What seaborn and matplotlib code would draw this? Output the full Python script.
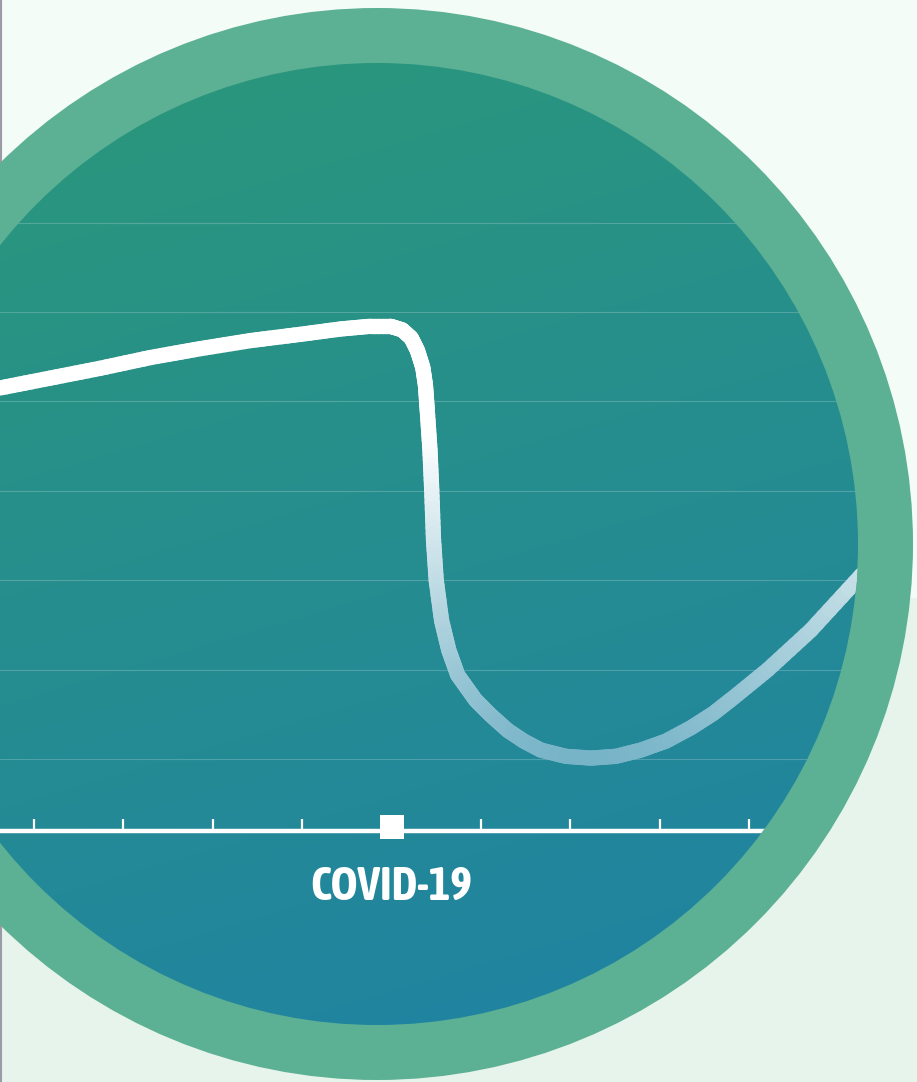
import numpy as np
import matplotlib.pyplot as plt
import seaborn as sns
from matplotlib.collections import LineCollection
from matplotlib.patches import Circle, Rectangle
from matplotlib.colors import to_rgb
from matplotlib import font_manager

# months relative to the COVID-19 onset, and the index
months = [-4.38, -3.82, -3.26, -2.70, -2.14, -1.58, -1.02, -0.57, -0.24, -0.01,
          0.12, 0.22, 0.29, 0.35, 0.38, 0.40, 0.43, 0.45, 0.47, 0.50,
          0.56, 0.64, 0.74, 0.94, 1.11, 1.30, 1.48, 1.67, 1.95, 2.23,
          2.51, 2.79, 3.07, 3.35, 3.60, 3.83, 4.21, 4.69, 5.25, 5.59]
index = [51.5, 52.6, 53.7, 54.9, 55.9, 56.8, 57.5, 58.1, 58.4, 58.4,
         58.0, 57.1, 55.7, 53.8, 51.8, 49.0, 44.6, 40.1, 34.5, 30.0,
         25.5, 22.2, 19.4, 16.6, 14.9, 13.2, 12.0, 11.0, 10.3, 10.1,
         10.3, 11.0, 12.0, 13.5, 15.1, 16.9, 20.0, 24.4, 30.5, 33.9]
grid_levels = [10, 20, 30, 40, 50, 60, 70]
tick_months = [-4, -3, -2, -1, 1, 2, 3, 4, 5]
covid_month = 0
baseline = 2
event_label = "COVID-19"

W, H = 917, 1082
X0_PX, X_STEP = 391.5, 89.4   # pixel of month 0, pixels per month
Y10_PX, Y_STEP = 759, 8.94    # pixel of level 10, pixels per index point
CX, CY, R_OUT, R_IN = 377, 544, 536, 481


def py_to_y(py):
    return 10 + (Y10_PX - py) / Y_STEP


def pick_narrow_font():
    narrow = ("condensed", "semi-condensed", "extra-condensed", "ultra-condensed")
    found = []
    for f in font_manager.fontManager.ttflist:
        if "Condensed" in f.name or "Narrow" in f.name or str(f.stretch) in narrow:
            found.append(f)
    if not found:
        return None
    # prefer bold faces
    found.sort(key=lambda f: (0 if str(f.weight) in ("bold", "700", "600") else 1, f.name))
    return font_manager.FontProperties(fname=found[0].fname)


sns.set_theme(style="white")
plt.rcParams["font.family"] = ["DejaVu Sans"]
label_fp = pick_narrow_font()

fig = plt.figure(figsize=(W / 100, H / 100), dpi=100)

# decoration layer in pixel coordinates
bg = fig.add_axes([0, 0, 1, 1])
bg.set_xlim(0, W)
bg.set_ylim(H, 0)
bg.set_axis_off()
bg.add_patch(Rectangle((0, 0), W, 598, color="#f3fcf6", lw=0, zorder=0))
bg.add_patch(Rectangle((0, 598), W, H - 598, color="#e7f4eb", lw=0, zorder=0))
bg.plot([0.8, 0.8], [0, H], color="#9b9ba8", lw=1.5, zorder=0.5)
bg.add_patch(Circle((CX, CY), R_OUT, color="#5cb094", lw=0, zorder=1))
inner = Circle((CX, CY), R_IN, facecolor="none", lw=0, zorder=3)
bg.add_patch(inner)

yy, xx = np.mgrid[0:1:300j, 0:1:300j]
t = np.clip(0.85 * yy + 0.25 * xx - 0.05, 0, 1)[..., None]
c0, c1 = np.array(to_rgb("#2b977b")), np.array(to_rgb("#2083a3"))
img = c0 * (1 - t) + c1 * t
im = bg.imshow(img, extent=(CX - R_IN, CX + R_IN, CY + R_IN, CY - R_IN),
               aspect="auto", interpolation="bilinear", zorder=2)
im.set_clip_path(inner)

# data layer
ax = fig.add_axes([0, 0, 1, 1])
ax.set_xlim(-X0_PX / X_STEP, (W - X0_PX) / X_STEP)
ax.set_ylim(py_to_y(H), py_to_y(0))
ax.set_axis_off()
ax.patch.set_visible(False)

for lv in grid_levels:
    gl = ax.axhline(lv, color="white", alpha=0.2, lw=0.8)
    gl.set_clip_path(inner)

base = ax.axhline(baseline, color="white", lw=3.2, zorder=3)
base.set_clip_path(inner)
tk = ax.vlines(tick_months, baseline, baseline + 12 / Y_STEP, color="white", lw=1.6, zorder=3)
tk.set_clip_path(inner)

sns.lineplot(x=months, y=index, ax=ax, color="white", lw=11, sort=False)
line = ax.lines[-1]
xy = line.get_xydata()
line.remove()

# fade the stroke from white to pale blue as it goes down
segs, cols = [], []
top_y, bot_y = py_to_y(440), py_to_y(762)
white, pale = np.array([1.0, 1.0, 1.0]), np.array(to_rgb("#76b3c7"))
for (x1, y1), (x2, y2) in zip(xy[:-1], xy[1:]):
    n = 8
    for k in range(n):
        a, b = k / n, (k + 1) / n
        p = (x1 + (x2 - x1) * a, y1 + (y2 - y1) * a)
        q = (x1 + (x2 - x1) * b, y1 + (y2 - y1) * b)
        segs.append([p, q])
        ym = (p[1] + q[1]) / 2
        f = np.clip((top_y - ym) / (top_y - bot_y), 0, 1)
        cols.append(white * (1 - f) + pale * f)
lc = LineCollection(segs, colors=cols, linewidths=11, capstyle="round", joinstyle="round", zorder=4)
lc.set_clip_path(inner)
ax.add_collection(lc)

sns.scatterplot(x=[covid_month], y=[py_to_y(827)], ax=ax, marker="s", s=290,
                color="white", linewidth=0, zorder=5)
if label_fp is not None:
    label_fp.set_size(33)
    ax.text(covid_month, py_to_y(900), event_label, ha="center", va="baseline",
            color="white", fontproperties=label_fp)
else:
    ax.text(covid_month, py_to_y(900), event_label, ha="center", va="baseline",
            color="white", fontsize=28, fontweight="bold")

fig.savefig("out.png", dpi=100)
